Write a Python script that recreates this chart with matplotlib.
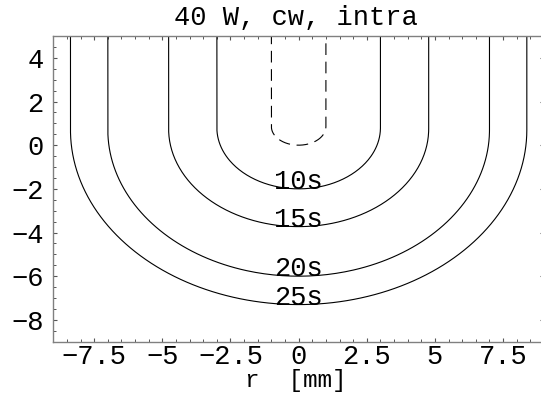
import numpy as np
import matplotlib
matplotlib.use("Agg")
import matplotlib.pyplot as plt
from matplotlib.ticker import MultipleLocator, FixedLocator

# Contour data
labels = ["", "10s", "15s", "20s", "25s"]
half_widths = [1.0, 3.0, 4.77, 7.0, 8.37]     # x of vertical walls
bottoms = [0.0, -2.0, -3.73, -6.0, -7.3]       # deepest point at r=0
wall_end = [0.85, 0.8, 0.75, 0.7, 0.7]          # y where walls turn into the arc
styles = ["dashed", "solid", "solid", "solid", "solid"]

xticks = [-7.5, -5, -2.5, 0, 2.5, 5, 7.5]
yticks = [-8, -6, -4, -2, 0, 2, 4]
title = "40 W, cw, intra"
xlabel = "r  [mm]"

FONT = ["Liberation Mono", "DejaVu Sans Mono"]
FS = 19.5
plt.rcParams["font.family"] = FONT
plt.rcParams["font.size"] = FS

fig = plt.figure(figsize=(5.41, 3.96), dpi=100)
W, H = 541, 396
left, right, top, bottom = 53.3, 544.0, 36.0, 341.7
ax = fig.add_axes([left / W, 1 - bottom / H, (right - left) / W, (bottom - top) / H])

ytop = 6.0
lw = 0.8
for a, d, y0, ls, lab in zip(half_widths, bottoms, wall_end, styles, labels):
    b = y0 - d
    t = np.linspace(np.pi, 2 * np.pi, 200)
    xs = np.concatenate([[-a, -a], a * np.cos(t), [a, a]])
    ys = np.concatenate([[ytop, y0], y0 + b * np.sin(t), [y0, ytop]])
    if ls == "dashed":
        ax.plot(xs, ys, color="black", lw=lw, dashes=(8.4 / lw, 4.8 / lw))
    else:
        ax.plot(xs, ys, color="black", lw=lw)
    if lab:
        ax.text(0, d, lab, ha="center", va="baseline", fontsize=FS)

ax.set_xlim(-9, 9)
ax.set_ylim(-9, 5)
ax.xaxis.set_major_locator(FixedLocator(xticks))
ax.yaxis.set_major_locator(FixedLocator(yticks))
ax.xaxis.set_minor_locator(MultipleLocator(0.5))
ax.yaxis.set_minor_locator(MultipleLocator(0.5))
ax.set_xticklabels([("%g" % v).replace("-", "\u2212") for v in xticks])
ax.set_yticklabels([("%g" % v).replace("-", "\u2212") for v in yticks])

ax.tick_params(which="both", direction="in", top=True, right=True, color="#555555")
ax.tick_params(which="major", length=3.2, width=0.8)
ax.tick_params(which="minor", length=2.0, width=0.7)
ax.tick_params(axis="x", which="major", pad=1.8)
ax.tick_params(axis="y", which="major", pad=7)
for s in ax.spines.values():
    s.set_color("#808080")
    s.set_linewidth(1.0)

# title with baseline at ~25 px from the top
fig.text((left + right) / 2 / W - 0.005, 1 - 25.5 / H, title, ha="center", va="baseline", fontsize=FS)

# x label, baseline near the bottom edge
fig.text(296 / W, 1 - 386.5 / H, xlabel, ha="center", va="baseline", fontsize=17.5)

fig.savefig("out.png", dpi=100)
